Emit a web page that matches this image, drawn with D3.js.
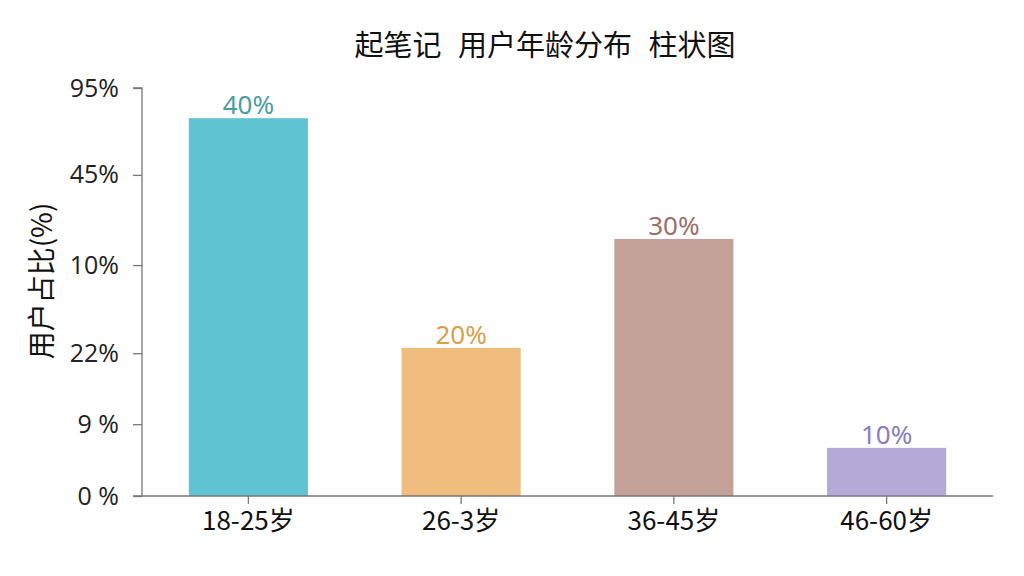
<!DOCTYPE html>
<html><head><meta charset="utf-8">
<script src="https://cdn.jsdelivr.net/npm/d3@7/dist/d3.min.js"></script>
<style>body{margin:0;background:#fff;} svg{display:block;font-family:"Noto Sans CJK SC","Noto Sans",sans-serif;}</style>
</head><body>
<svg id="c" width="1024" height="576"></svg>
<script>
const categories = ["18-25岁", "26-3岁", "36-45岁", "46-60岁"];
const barHeights = [92.6, 36.3, 63.0, 11.8];      // bar heights in axis units (as drawn)
const barLabels = ["40%", "20%", "30%", "10%"];
const tickPositions = [0, 17.6, 35.0, 56.6, 78.7, 100];
const tickLabels = ["0 %", "9 %", "22%", "10%", "45%", "95%"];
const barColors = ["#5fc3d1", "#f0bd7e", "#c4a198", "#b3aad8"];
const labelColors = ["#4b9e9f", "#d6a04c", "#9a6f6a", "#8a7cbd"];

const svg = d3.select("#c");
const x0 = 142, x1 = 993, yBottom = 496, yTop = 88;
const x = d3.scaleBand().domain(categories).range([x0, x1]).paddingInner(0.44).paddingOuter(0.22);
const y = d3.scaleLinear().domain([0, 100]).range([yBottom, yTop]);

svg.append("text").attr("x", 545).attr("y", 56).attr("text-anchor", "middle")
  .attr("font-size", 29).attr("fill", "#111").attr("word-spacing", 10)
  .style("white-space", "pre").text("起笔记 用户年龄分布 柱状图");

// bars
svg.append("g").selectAll("rect").data(categories).join("rect")
  .attr("x", d => x(d)).attr("width", x.bandwidth())
  .attr("y", (d, i) => y(barHeights[i])).attr("height", (d, i) => y(0) - y(barHeights[i]))
  .attr("fill", (d, i) => barColors[i]);

svg.append("g").selectAll("text").data(categories).join("text")
  .attr("x", d => x(d) + x.bandwidth() / 2)
  .attr("y", (d, i) => y(barHeights[i]) - 4)
  .attr("text-anchor", "middle").attr("font-size", 26)
  .attr("font-family", '"Noto Sans","Open Sans",sans-serif')
  .attr("fill", (d, i) => labelColors[i]).text((d, i) => barLabels[i]);

// y axis
const yAxis = svg.append("g").attr("transform", `translate(${x0},0)`)
  .call(d3.axisLeft(y).tickValues(tickPositions).tickFormat((d, i) => tickLabels[i]).tickSize(9).tickPadding(14));
yAxis.select(".domain").attr("stroke", "#777").attr("stroke-width", 1.3).attr("d", `M-9,${yTop}H0V${yBottom}H-9`);
yAxis.selectAll(".tick line").attr("stroke", "#777").attr("stroke-width", 1.3);
yAxis.selectAll(".tick text").attr("font-size", 25).attr("fill", "#222")
  .attr("font-family", '"Open Sans","Noto Sans",sans-serif');

// x axis
const xAxis = svg.append("g").attr("transform", `translate(0,${yBottom})`)
  .call(d3.axisBottom(x).tickSize(8).tickPadding(8));
xAxis.select(".domain").attr("stroke", "#777").attr("stroke-width", 1.3).attr("d", `M${x0},0H${x1}`);
xAxis.selectAll(".tick line").attr("stroke", "#777").attr("stroke-width", 1.3);
xAxis.selectAll(".tick text").attr("font-size", 26).attr("fill", "#111")
  .attr("font-family", '"Noto Sans CJK SC",sans-serif');

svg.append("text").attr("transform", "translate(52,281) rotate(-90)").attr("text-anchor", "middle")
  .attr("font-size", 28).attr("fill", "#111").text("用户占比(%)");
</script>
</body></html>
